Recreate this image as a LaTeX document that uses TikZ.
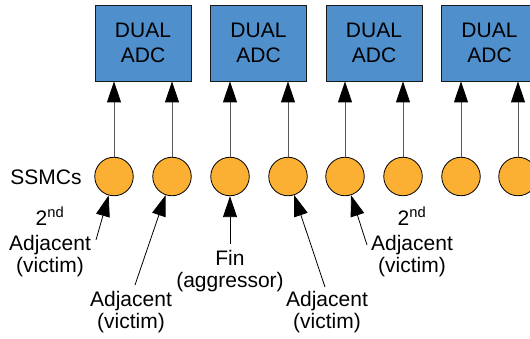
\documentclass[tikz,border=0pt]{standalone}
\usepackage{fontspec}
\setmainfont{Liberation Sans}
\usetikzlibrary{arrows.meta}
\definecolor{adcblue}{HTML}{4F8FCC}
\definecolor{ssmcorange}{HTML}{FBB034}
\begin{document}
\begin{tikzpicture}[x=1pt,y=-1pt,
  adc/.style={draw=black!90,fill=adcblue,minimum width=96pt,minimum height=76pt,inner sep=0pt,align=center,font=\fontsize{21}{24.5}\selectfont,line width=0.8pt},
  ssmc/.style={circle,draw=black,fill=ssmcorange,minimum size=38.5pt,inner sep=0pt,line width=0.8pt},
  lab/.style={align=center,font=\fontsize{21}{22}\selectfont,inner sep=0pt},
  uparr/.style={-{Triangle[width=14pt,length=21pt,color=black]},line width=0.9pt,draw=black!65},
  inarr/.style={-{Triangle[width=14pt,length=21pt,color=black]},line width=0.8pt,draw=black},
  ]
\useasboundingbox (0,0) rectangle (530,339);
\clip (0,0) rectangle (530,339);
% ADC boxes
\node[adc] (a1) at (143,43) {DUAL\\ADC};
\node[adc] (a2) at (258.5,43) {DUAL\\ADC};
\node[adc] (a3) at (374,43) {DUAL\\ADC};
\node[adc] (a4) at (489.5,43) {DUAL\\ADC};
% SSMCs
\node[ssmc] (c1) at (114,176.5) {};
\node[ssmc] (c2) at (172,176.5) {};
\node[ssmc] (c3) at (230,176.5) {};
\node[ssmc] (c4) at (288,176.5) {};
\node[ssmc] (c5) at (345,176.5) {};
\node[ssmc] (c6) at (403,176.5) {};
\node[ssmc] (c7) at (461,176.5) {};
\node[ssmc] (c8) at (518,176.5) {};
% vertical arrows
\draw[uparr] (c1) -- (c1 |- a1.south);
\draw[uparr] (c2) -- (c2 |- a1.south);
\draw[uparr] (c3) -- (c3 |- a2.south);
\draw[uparr] (c4) -- (c4 |- a2.south);
\draw[uparr] (c5) -- (c5 |- a3.south);
\draw[uparr] (c6) -- (c6 |- a3.south);
\draw[uparr] (c7) -- (c7 |- a4.south);
\draw[uparr] (c8) -- (c8 |- a4.south);
% labels
\node[lab,anchor=base] (ss) at (46,185) {SSMCs};
\node[lab,anchor=north] (l2) at (50,207) {2\textsuperscript{nd}\\[3pt]Adjacent\\(victim)};
\node[lab,anchor=north] (la) at (131,291) {Adjacent\\(victim)};
\node[lab,anchor=north] (fin) at (230,250) {Fin\\(aggressor)};
\node[lab,anchor=north] (ra) at (327,291) {Adjacent\\(victim)};
\node[lab,anchor=north] (r2) at (412,207) {2\textsuperscript{nd}\\[3pt]Adjacent\\(victim)};
% label tails
\coordinate (t1) at (96,240);
\coordinate (t2) at (135,285);
\coordinate (t3) at (230,244);
\coordinate (t4) at (325,287);
\coordinate (t5) at (367,245);
\draw[inarr] (t1) -- (c1);
\draw[inarr] (t2) -- (c2);
\draw[inarr] (t3) -- (c3);
\draw[inarr] (t4) -- (c4);
\draw[inarr] (t5) -- (c5);
\end{tikzpicture}
\end{document}
